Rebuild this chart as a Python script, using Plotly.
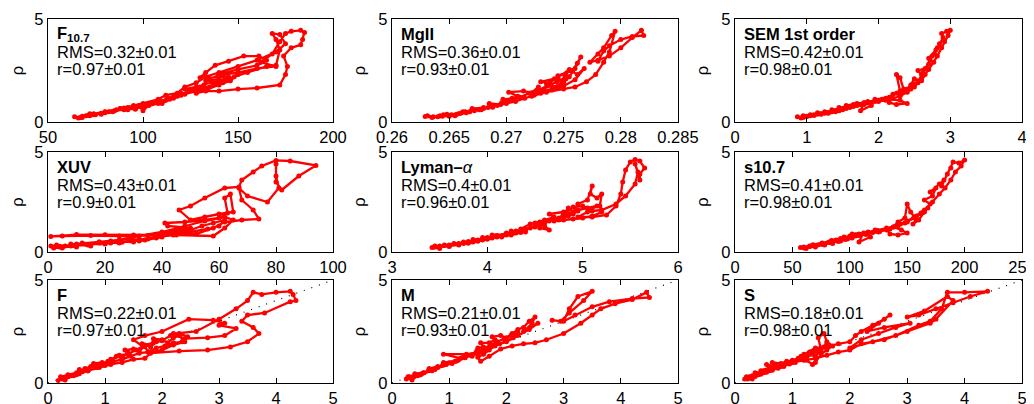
import plotly.graph_objects as go

# ---------------- data ----------------
f107_x = [64, 66, 70, 68, 75, 72, 80, 78, 85, 82, 90, 88, 95, 92, 98, 100, 103, 100, 108, 105, 112, 110, 116, 113, 120, 118, 124, 122, 128, 125, 132, 130, 136, 133, 140, 138, 145, 130, 133, 138, 145, 153, 161, 165, 160, 150, 140, 135, 142, 150, 160, 170, 162, 168, 172, 175, 178, 183, 185, 184, 183, 178, 174, 176, 175, 172, 160, 150, 140, 133, 128, 135, 142, 148, 155, 165, 170, 172, 170, 168, 172, 175, 170, 160, 150, 140, 133, 128, 122, 118, 112, 108, 100, 95, 88, 80, 74, 68,
          72, 78, 84, 90, 96, 102, 108, 114, 120, 126, 132, 138, 144, 150, 146, 140, 134, 128, 122, 116, 110, 104, 98, 92, 86, 80, 74, 67]
f107_y = [0.25, 0.2, 0.3, 0.22, 0.35, 0.3, 0.45, 0.38, 0.55, 0.5, 0.6, 0.65, 0.7, 0.6, 0.75, 0.55, 0.8, 0.7, 0.9, 0.95, 1.05, 0.9, 1.2, 1.15, 1.4, 1.25, 1.5, 1.6, 1.7, 1.55, 1.8, 1.7, 1.95, 2.0, 2.1, 1.9, 2.2, 2.15, 2.4, 2.75, 2.95, 3.2, 3.2, 3.0, 2.75, 2.55, 2.3, 2.05, 2.3, 2.4, 2.6, 2.7, 2.9, 3.3, 3.9, 4.3, 4.4, 4.45, 4.35, 4.0, 3.75, 3.6, 3.2, 2.7, 2.3, 1.8, 1.65, 1.6, 1.5, 1.5, 1.4, 1.7, 1.9, 2.2, 2.4, 2.7, 2.75, 3.5, 4.0, 4.3, 4.25, 3.8, 3.4, 3.0, 2.7, 2.4, 2.2, 1.9, 1.7, 1.4, 1.3, 1.1, 0.9, 0.8, 0.65, 0.5, 0.4, 0.28,
          0.4, 0.42, 0.5, 0.68, 0.62, 0.85, 1.0, 1.1, 1.3, 1.55, 1.65, 1.85, 2.05, 2.3, 2.0, 1.8, 1.6, 1.5, 1.35, 1.15, 1.0, 0.9, 0.8, 0.7, 0.6, 0.48, 0.35, 0.22]

mg_x = [0.2631, 0.2640, 0.2648, 0.2656, 0.2664, 0.2672, 0.2680, 0.2688, 0.2696, 0.2704, 0.2712, 0.2720, 0.2728, 0.2736, 0.2744, 0.2752, 0.2748, 0.2740, 0.2732, 0.2724, 0.2716, 0.2708, 0.2700, 0.2692, 0.2684, 0.2676, 0.2668, 0.2660, 0.2652, 0.2644, 0.2636,
        0.2629, 0.2635, 0.2642, 0.2650, 0.2645, 0.2658, 0.2655, 0.2665, 0.2662, 0.2672, 0.2670, 0.2680, 0.2678, 0.2688, 0.2685, 0.2695, 0.2700, 0.2697, 0.2705, 0.2710, 0.2702, 0.2715, 0.2722, 0.2728, 0.2725, 0.2733, 0.2738, 0.2730, 0.2742, 0.2748, 0.2752, 0.2745, 0.2758, 0.2762, 0.2765, 0.2760, 0.2755, 0.2750, 0.2740, 0.2735, 0.2745, 0.2755, 0.2762, 0.2768, 0.2760, 0.2750, 0.2740, 0.2730, 0.2722, 0.2735, 0.2750, 0.2760, 0.2770, 0.2778, 0.2785, 0.2790, 0.2795, 0.2792, 0.2785, 0.2780, 0.2773, 0.2780, 0.2790, 0.2800, 0.2810, 0.2818, 0.2820, 0.2810, 0.2800, 0.2790, 0.2785, 0.2780]
mg_y = [0.3, 0.25, 0.38, 0.36, 0.5, 0.6, 0.65, 0.72, 0.95, 1.05, 1.2, 1.4, 1.55, 1.75, 1.95, 2.1, 1.8, 1.6, 1.5, 1.3, 1.15, 1.0, 0.9, 0.8, 0.7, 0.6, 0.5, 0.42, 0.35, 0.28, 0.25,
        0.27, 0.22, 0.3, 0.28, 0.35, 0.4, 0.3, 0.45, 0.5, 0.55, 0.65, 0.7, 0.6, 0.8, 0.9, 0.85, 1.0, 1.1, 1.15, 1.25, 1.45, 1.5, 1.42, 1.7, 1.35, 1.6, 1.9, 1.95, 2.1, 2.0, 2.3, 2.25, 2.5, 2.85, 3.15, 2.6, 2.2, 1.9, 1.7, 1.85, 2.15, 2.55, 2.3, 2.6, 2.05, 1.75, 1.55, 1.4, 1.25, 1.45, 1.6, 1.7, 1.95, 2.3, 2.9, 3.4, 4.4, 4.2, 3.6, 3.3, 2.9, 3.0, 3.2, 3.6, 4.1, 4.45, 4.2, 4.15, 4.0, 3.7, 3.45, 2.95]

sem_x = [0.87, 0.92, 1.0, 0.95, 1.1, 1.05, 1.2, 1.15, 1.3, 1.25, 1.4, 1.35, 1.5, 1.45, 1.6, 1.55, 1.7, 1.65, 1.8, 1.75, 1.9, 1.85, 2.0, 1.95, 2.1, 2.15, 2.25, 2.4, 2.3, 2.15, 2.2, 2.3, 2.25, 2.3, 2.35, 2.3, 2.4, 2.45, 2.5, 2.45, 2.55, 2.6, 2.55, 2.65, 2.7, 2.62, 2.72, 2.75, 2.7, 2.8, 2.78, 2.85, 2.82, 2.9, 2.88, 2.95, 3.0, 2.97, 2.92, 2.88, 2.82, 2.77, 2.7, 2.6, 2.5, 2.4, 2.3, 2.2, 2.1, 2.0, 1.9, 1.8, 1.7, 1.6, 1.5, 1.4, 1.3, 1.2, 1.1, 1.0,
         0.95, 1.05, 1.15, 1.25, 1.35, 1.45, 1.55, 1.65, 1.75, 1.85, 1.95, 2.05, 2.15, 2.25, 2.35, 2.45, 2.55, 2.65, 2.6, 2.5, 2.4, 2.3]
sem_y = [0.25, 0.2, 0.28, 0.3, 0.35, 0.3, 0.4, 0.45, 0.45, 0.5, 0.55, 0.6, 0.65, 0.7, 0.75, 0.8, 0.9, 0.85, 0.95, 0.55, 0.8, 1.0, 1.05, 1.1, 1.15, 0.95, 0.85, 0.9, 1.05, 1.1, 1.35, 1.5, 2.3, 2.15, 1.6, 1.3, 1.55, 1.8, 2.1, 1.7, 1.9, 2.3, 2.5, 2.6, 2.8, 2.4, 3.0, 3.2, 3.1, 3.5, 3.3, 3.8, 3.6, 4.1, 4.3, 4.4, 4.45, 4.2, 3.9, 3.6, 3.2, 2.9, 2.55, 2.1, 1.7, 1.45, 1.25, 1.15, 1.05, 1.0, 0.95, 0.85, 0.8, 0.7, 0.6, 0.5, 0.42, 0.38, 0.32, 0.27,
         0.22, 0.35, 0.38, 0.42, 0.5, 0.55, 0.65, 0.75, 0.85, 0.92, 1.0, 1.1, 1.2, 1.4, 1.5, 1.6, 2.0, 2.3, 2.0, 1.85, 1.6, 1.4]

xuv_x = [1, 5, 3, 10, 8, 15, 12, 20, 18, 25, 22, 30, 28, 35, 32, 40, 38, 30, 20, 10, 1, 5, 15, 25, 35, 40, 45, 50, 42, 41, 48, 55, 60, 63, 62, 64, 65, 60, 55, 50, 46, 50, 55, 62, 67, 68, 72, 75, 80, 85, 94, 88, 82, 80, 80, 80, 81, 77, 70, 67, 68, 72, 74, 68, 62, 58, 52, 45, 58, 62, 65, 62, 55, 48, 40, 32, 25, 18, 10, 4,
         2, 6, 10, 14, 18, 22, 26, 30, 34, 38, 42, 46, 50, 54, 58, 62, 60, 56, 50, 44, 38, 32, 26, 20, 14, 8, 2]
xuv_y = [0.3, 0.2, 0.35, 0.25, 0.4, 0.3, 0.45, 0.4, 0.5, 0.45, 0.55, 0.5, 0.6, 0.65, 0.55, 0.75, 0.85, 0.85, 0.86, 0.87, 0.78, 0.8, 0.82, 0.8, 0.82, 0.9, 1.1, 1.2, 1.3, 1.45, 1.5, 1.6, 1.7, 1.95, 2.7, 2.9, 2.0, 1.9, 1.75, 1.6, 2.1, 2.3, 2.7, 3.2, 3.25, 3.6, 4.0, 4.3, 4.58, 4.55, 4.33, 3.8, 3.1, 3.5, 4.4, 3.8, 3.2, 2.5, 2.8, 3.2, 2.6, 2.1, 1.65, 1.6, 1.5, 1.2, 0.9, 0.85, 0.8, 1.2, 1.6, 1.75, 1.55, 1.3, 1.0, 0.8, 0.6, 0.5, 0.4, 0.25,
         0.25, 0.3, 0.35, 0.35, 0.45, 0.45, 0.5, 0.55, 0.6, 0.7, 0.9, 1.0, 1.1, 1.3, 1.45, 1.6, 1.3, 1.15, 1.0, 0.85, 0.75, 0.6, 0.5, 0.42, 0.38, 0.3, 0.2]

lya_x = [3.42, 3.5, 3.45, 3.6, 3.55, 3.7, 3.65, 3.8, 3.75, 3.9, 3.85, 4.0, 3.95, 4.1, 4.05, 4.2, 4.15, 4.3, 4.25, 4.4, 4.35, 4.45, 4.55, 4.6, 4.65, 4.55, 4.5, 4.6, 4.7, 4.65, 4.8, 4.75, 4.85, 4.9, 4.95, 5.05, 5.1, 5.08, 5.15, 5.2, 5.18, 5.2, 5.1, 5.0, 4.9, 4.8, 4.7, 4.85, 4.95, 5.05, 5.15, 5.05, 4.95, 5.1, 5.25, 5.35, 5.4, 5.42, 5.45, 5.5, 5.55, 5.6, 5.65, 5.6, 5.6, 5.55, 5.58, 5.55, 5.45, 5.35, 5.2, 5.1, 5.0, 4.9, 4.8, 4.7, 4.6, 4.5, 4.4, 4.3, 4.2, 4.1, 4.0, 3.9, 3.8, 3.7, 3.6, 3.5,
         3.45, 3.55, 3.65, 3.75, 3.85, 3.95, 4.05, 4.15, 4.25, 4.35, 4.45, 4.55, 4.65, 4.75, 4.85, 4.95, 4.9, 4.8, 4.7, 4.6, 4.5, 4.4, 4.3, 4.2, 4.1, 4.0, 3.9, 3.8, 3.7, 3.6, 3.5, 3.44]
lya_y = [0.22, 0.18, 0.3, 0.28, 0.35, 0.35, 0.42, 0.45, 0.5, 0.55, 0.62, 0.65, 0.72, 0.78, 0.85, 0.9, 0.75, 0.95, 1.05, 1.0, 1.15, 1.4, 1.5, 1.3, 1.1, 1.2, 1.45, 1.6, 1.75, 1.9, 2.0, 1.6, 2.2, 2.0, 2.4, 2.6, 3.3, 2.9, 2.7, 2.9, 2.3, 2.0, 1.8, 1.7, 1.65, 1.6, 1.55, 1.9, 2.1, 2.2, 2.3, 2.0, 1.75, 1.75, 1.85, 2.3, 2.9, 3.5, 4.1, 4.5, 4.62, 4.55, 4.2, 3.9, 3.6, 4.4, 4.0, 3.4, 2.8, 2.4, 2.1, 2.05, 2.3, 2.25, 1.8, 1.6, 1.45, 1.3, 1.1, 1.0, 0.85, 0.75, 0.65, 0.55, 0.45, 0.38, 0.3, 0.25,
         0.28, 0.32, 0.4, 0.42, 0.5, 0.6, 0.7, 0.8, 0.85, 0.98, 1.2, 1.35, 1.55, 1.7, 1.8, 2.05, 1.9, 1.75, 1.65, 1.5, 1.25, 1.15, 1.05, 0.95, 0.82, 0.72, 0.6, 0.52, 0.42, 0.35, 0.3, 0.24]

s107_x = [57, 62, 65, 70, 68, 78, 75, 85, 82, 92, 88, 98, 95, 105, 102, 112, 108, 118, 115, 125, 122, 132, 135, 142, 150, 145, 138, 142, 148, 150, 153, 158, 155, 160, 165, 170, 165, 172, 175, 170, 178, 182, 180, 185, 188, 190, 195, 200, 197, 192, 188, 183, 178, 172, 165, 158, 150, 142, 135, 125, 115, 105, 95, 85, 75, 65,
          60, 66, 72, 78, 84, 90, 96, 102, 108, 114, 120, 126, 132, 138, 144, 150, 156, 162, 168, 164, 156, 148, 140, 132, 124, 116, 108, 100, 92, 84, 76, 68, 60]
s107_y = [0.22, 0.18, 0.28, 0.25, 0.32, 0.35, 0.4, 0.42, 0.5, 0.55, 0.6, 0.65, 0.75, 0.8, 0.9, 0.95, 0.5, 0.75, 0.9, 1.0, 1.1, 1.15, 0.9, 0.85, 0.95, 1.1, 1.25, 1.5, 1.7, 2.4, 2.0, 1.6, 1.4, 1.6, 2.0, 2.4, 2.6, 2.8, 3.2, 3.0, 3.4, 3.6, 3.3, 3.9, 4.2, 4.5, 4.45, 4.6, 4.3, 4.0, 3.6, 3.2, 2.9, 2.5, 2.1, 1.8, 1.5, 1.3, 1.15, 1.05, 0.95, 0.85, 0.7, 0.55, 0.4, 0.3,
          0.25, 0.3, 0.35, 0.38, 0.48, 0.52, 0.62, 0.7, 0.82, 0.88, 0.98, 1.02, 1.1, 1.25, 1.4, 1.55, 1.75, 1.95, 2.2, 2.0, 1.7, 1.45, 1.3, 1.2, 1.08, 1.0, 0.9, 0.8, 0.68, 0.58, 0.45, 0.36, 0.2]

fm_x = [0.18, 0.25, 0.3, 0.4, 0.35, 0.5, 0.45, 0.6, 0.55, 0.7, 0.75, 0.85, 0.8, 0.95, 1.0, 1.1, 1.05, 1.2, 1.3, 1.4, 1.35, 1.5, 1.6, 1.7, 1.65, 1.8, 1.9, 1.85, 2.0, 2.1, 2.2, 2.3, 2.4, 2.2, 2.0, 1.8, 1.5, 1.7, 2.0, 2.47, 2.9, 3.1, 3.0, 3.3, 3.1, 2.8, 2.4, 2.2, 2.6, 3.0, 3.3, 3.5, 3.6, 3.75, 4.0, 4.25, 4.3, 4.35, 4.25, 3.8, 3.5, 3.4, 3.6, 3.7, 3.5, 3.2, 2.8, 2.3, 1.8, 1.7, 1.5, 1.3, 1.1, 0.9, 0.7, 0.5, 0.3,
        0.22, 0.35, 0.5, 0.65, 0.8, 0.95, 1.1, 1.25, 1.4, 1.55, 1.7, 1.85, 2.0, 2.15, 2.3, 2.45, 2.35, 2.2, 2.05, 1.9, 1.75, 1.6, 1.45, 1.3, 1.15, 1.0, 0.85, 0.7, 0.55, 0.4, 0.25]
fm_y = [0.12, 0.25, 0.15, 0.35, 0.3, 0.45, 0.35, 0.55, 0.65, 0.6, 0.8, 0.75, 0.95, 1.0, 0.9, 1.15, 1.05, 1.3, 1.2, 1.5, 1.6, 1.65, 1.55, 1.8, 1.9, 1.75, 2.0, 2.15, 2.1, 1.95, 2.2, 2.3, 2.0, 1.85, 1.6, 1.5, 2.1, 2.3, 2.5, 3.1, 3.05, 2.9, 2.8, 2.65, 2.3, 2.2, 2.15, 2.4, 2.5, 3.1, 3.6, 4.0, 4.4, 4.3, 4.4, 4.45, 4.3, 4.0, 3.95, 3.4, 3.3, 3.0, 2.7, 2.4, 2.0, 1.75, 1.6, 1.55, 1.45, 1.2, 1.15, 1.0, 0.9, 0.75, 0.6, 0.4, 0.22,
        0.3, 0.4, 0.5, 0.7, 0.85, 0.95, 1.1, 1.35, 1.4, 1.6, 1.85, 1.95, 2.05, 2.3, 2.4, 2.25, 2.0, 1.95, 1.8, 1.7, 1.5, 1.45, 1.3, 1.15, 1.05, 0.85, 0.75, 0.6, 0.45, 0.35, 0.2]

mm_x = [0.28, 0.4, 0.52, 0.64, 0.76, 0.88, 1.0, 1.12, 1.24, 1.36, 1.48, 1.6, 1.72, 1.84, 1.96, 2.08, 2.2, 2.12, 2.0, 1.88, 1.76, 1.64, 1.52, 1.4, 1.28, 1.16, 1.04, 0.92, 0.8, 0.68, 0.56, 0.44, 0.3,
        0.25, 0.3, 0.35, 0.45, 0.4, 0.55, 0.5, 0.7, 0.65, 0.8, 0.75, 0.95, 0.9, 1.1, 1.05, 1.2, 0.9, 1.3, 1.5, 1.4, 1.55, 1.5, 1.6, 1.55, 1.7, 1.8, 1.75, 1.9, 2.0, 2.1, 2.2, 2.3, 2.4, 2.5, 2.45, 2.3, 2.55, 2.4, 2.2, 2.0, 1.8, 1.7, 1.6, 1.5, 1.55, 1.7, 1.9, 2.1, 2.3, 2.5, 2.7, 3.0, 3.3, 3.5, 3.65, 3.9, 4.2, 4.45, 4.5, 4.2, 3.8, 3.5, 3.2, 3.0, 3.1, 3.25, 3.5, 3.35, 3.1, 2.95, 2.8]
mm_y = [0.3, 0.4, 0.45, 0.62, 0.72, 0.85, 0.98, 1.05, 1.25, 1.35, 1.55, 1.65, 1.85, 2.0, 2.15, 2.3, 2.45, 2.2, 2.05, 1.9, 1.8, 1.6, 1.5, 1.38, 1.22, 1.1, 0.98, 0.88, 0.75, 0.62, 0.5, 0.38, 0.25,
        0.2, 0.3, 0.15, 0.35, 0.45, 0.5, 0.4, 0.6, 0.7, 0.8, 0.65, 0.9, 1.0, 1.05, 0.95, 1.2, 1.4, 1.4, 1.45, 1.3, 1.5, 1.7, 1.75, 1.95, 1.95, 2.1, 2.25, 2.3, 2.2, 2.4, 2.6, 2.7, 3.0, 3.2, 2.9, 2.5, 2.9, 2.6, 2.3, 2.0, 1.8, 1.6, 1.4, 1.25, 1.05, 1.3, 1.65, 1.8, 1.9, 1.95, 2.1, 2.4, 2.9, 3.3, 3.6, 3.85, 4.05, 4.4, 4.15, 4.1, 3.95, 3.7, 3.3, 3.0, 3.6, 4.2, 4.45, 4.0, 3.4, 3.0, 3.05]

sm_x = [0.17, 0.25, 0.3, 0.4, 0.35, 0.5, 0.45, 0.6, 0.55, 0.7, 0.65, 0.8, 0.9, 1.0, 1.1, 1.2, 1.3, 1.4, 1.5, 1.45, 1.55, 1.6, 1.7, 1.6, 1.5, 1.4, 1.35, 1.25, 1.15, 1.4, 1.6, 1.8, 2.0, 2.1, 2.2, 2.4, 2.6, 2.7, 2.5, 2.3, 2.6, 3.05, 2.8, 2.5, 2.2, 2.0, 2.4, 2.8, 3.2, 3.4, 3.6, 3.7, 4.0, 4.4, 4.1, 3.8, 3.5, 3.2, 3.0, 3.3, 3.7, 3.8, 3.5, 3.4, 3.0, 2.6, 2.2, 2.0, 1.8, 1.6, 1.4, 1.2, 1.0, 0.8, 0.6, 0.4, 0.25,
        0.2, 0.3, 0.4, 0.5, 0.6, 0.7, 0.8, 0.9, 1.0, 1.1, 1.2, 1.3, 1.4, 1.5, 1.6, 1.55, 1.45, 1.35, 1.25, 1.15, 1.05, 0.95, 0.85, 0.75, 0.65, 0.55, 0.45, 0.35, 0.22]
sm_y = [0.2, 0.3, 0.2, 0.4, 0.5, 0.5, 0.6, 0.75, 0.9, 0.8, 1.0, 0.95, 1.05, 1.1, 1.2, 1.4, 1.5, 1.3, 1.6, 2.2, 2.4, 2.0, 1.8, 1.6, 1.4, 1.0, 0.9, 1.1, 1.3, 1.7, 1.75, 1.9, 2.0, 2.3, 2.5, 2.8, 3.1, 3.3, 2.9, 2.5, 2.7, 2.9, 2.7, 2.4, 2.1, 1.7, 2.0, 2.3, 2.8, 3.0, 3.6, 4.4, 4.4, 4.45, 4.2, 3.9, 3.6, 3.3, 3.2, 3.5, 4.2, 4.0, 3.1, 2.9, 2.5, 2.1, 1.9, 1.6, 1.5, 1.35, 1.2, 1.1, 1.0, 0.8, 0.6, 0.4, 0.25,
        0.3, 0.35, 0.45, 0.6, 0.7, 0.85, 0.9, 1.0, 1.05, 1.15, 1.3, 1.45, 1.55, 1.7, 1.9, 1.75, 1.55, 1.4, 1.25, 1.15, 1.0, 0.92, 0.8, 0.72, 0.62, 0.52, 0.42, 0.32, 0.2]

diag_x = [0, 5]
diag_y = [0, 5]

names = ["<b>F<sub>10.7</sub></b>", "<b>MgII</b>", "<b>SEM 1st order</b>",
         "<b>XUV</b>", "<b>Lyman–</b><i>α</i>", "<b>s10.7</b>",
         "<b>F</b>", "<b>M</b>", "<b>S</b>"]
rms_labels = ["RMS=0.32±0.01", "RMS=0.36±0.01", "RMS=0.42±0.01",
              "RMS=0.43±0.01", "RMS=0.4±0.01", "RMS=0.41±0.01",
              "RMS=0.22±0.01", "RMS=0.21±0.01", "RMS=0.18±0.01"]
r_labels = ["r=0.97±0.01", "r=0.93±0.01", "r=0.98±0.01",
            "r=0.9±0.01", "r=0.96±0.01", "r=0.98±0.01",
            "r=0.97±0.01", "r=0.93±0.01", "r=0.98±0.01"]

xticks = [
    [50, 100, 150, 200],
    [0.26, 0.265, 0.27, 0.275, 0.28, 0.285],
    [0, 1, 2, 3, 4],
    [0, 20, 40, 60, 80, 100],
    [3, 4, 5, 6],
    [0, 50, 100, 150, 200, 250],
    [0, 1, 2, 3, 4, 5],
    [0, 1, 2, 3, 4, 5],
    [0, 1, 2, 3, 4, 5],
]
xtick_text = [
    ["50", "100", "150", "200"],
    ["0.26", "0.265", "0.27", "0.275", "0.28", "0.285"],
    ["0", "1", "2", "3", "4"],
    ["0", "20", "40", "60", "80", "100"],
    ["3", "4", "5", "6"],
    ["0", "50", "100", "150", "200", "250"],
    ["0", "1", "2", "3", "4", "5"],
    ["0", "1", "2", "3", "4", "5"],
    ["0", "1", "2", "3", "4", "5"],
]
yticks = [0, 5]

series = [(f107_x, f107_y), (mg_x, mg_y), (sem_x, sem_y),
          (xuv_x, xuv_y), (lya_x, lya_y), (s107_x, s107_y),
          (fm_x, fm_y), (mm_x, mm_y), (sm_x, sm_y)]

# ---------------- layout geometry ----------------
# the page body has an 8px margin, so the figure is placed 8px right/down
OFF = 8
W, H = 1034 - OFF, 404 - OFF
col_px = [(48, 333), (392, 678), (735, 1022)]
row_px = [(19, 122), (152, 252), (280, 383)]

FONT = "Liberation Sans, Arial, Helvetica, sans-serif"
FS = 16.5
RED = "#ff0000"

fig = go.Figure()
layout = dict(
    width=W, height=H, margin=dict(l=0, r=0, t=0, b=0, autoexpand=False),
    paper_bgcolor="white", plot_bgcolor="white", showlegend=False,
    font=dict(family=FONT, size=FS, color="black"),
)
annotations = []
for i in range(9):
    r, c = divmod(i, 3)
    n = i + 1
    xa = "xaxis" if n == 1 else f"xaxis{n}"
    ya = "yaxis" if n == 1 else f"yaxis{n}"
    xref = "x" if n == 1 else f"x{n}"
    yref = "y" if n == 1 else f"y{n}"
    x0, x1 = col_px[c][0] - OFF, col_px[c][1] - OFF
    y0, y1 = row_px[r][0] - OFF, row_px[r][1] - OFF
    lo, hi = xticks[i][0], xticks[i][-1]
    axis_common = dict(
        showline=True, linecolor="black", linewidth=1.3, mirror="ticks",
        ticks="inside", ticklen=5, tickwidth=1, tickcolor="black",
        showgrid=False, zeroline=False, automargin=False,
        ticklabeloverflow="allow",
        tickfont=dict(family=FONT, size=FS, color="black"),
    )
    layout[xa] = dict(axis_common, domain=[x0 / W, x1 / W], range=[lo, hi],
                      tickvals=xticks[i], ticktext=xtick_text[i], anchor=yref)
    layout[ya] = dict(axis_common, domain=[1 - y1 / H, 1 - y0 / H], range=[0, 5],
                      tickvals=yticks, anchor=xref,
                      title=dict(text="ρ", standoff=8,
                                 font=dict(family=FONT, size=FS, color="black")))
    xs, ys = series[i]
    if r == 2:
        fig.add_trace(go.Scatter(x=diag_x, y=diag_y, mode="lines",
                                 line=dict(color="black", width=1.2, dash="1px,7px"),
                                 xaxis=xref, yaxis=yref, hoverinfo="skip"))
    fig.add_trace(go.Scatter(x=xs, y=ys, mode="lines+markers",
                             line=dict(color=RED, width=2.3),
                             marker=dict(color=RED, size=5),
                             xaxis=xref, yaxis=yref))
    h = y1 - y0
    w = x1 - x0
    for txt, off in [(names[i], 15), (rms_labels[i], 33), (r_labels[i], 50)]:
        annotations.append(dict(
            text=txt, xref=f"{xref} domain", yref=f"{yref} domain",
            x=7 / w, y=1 - off / h, xanchor="left", yanchor="middle",
            showarrow=False, font=dict(family=FONT, size=FS, color="black")))
layout["annotations"] = annotations
fig.update_layout(**layout)
fig.write_html("out.html")
